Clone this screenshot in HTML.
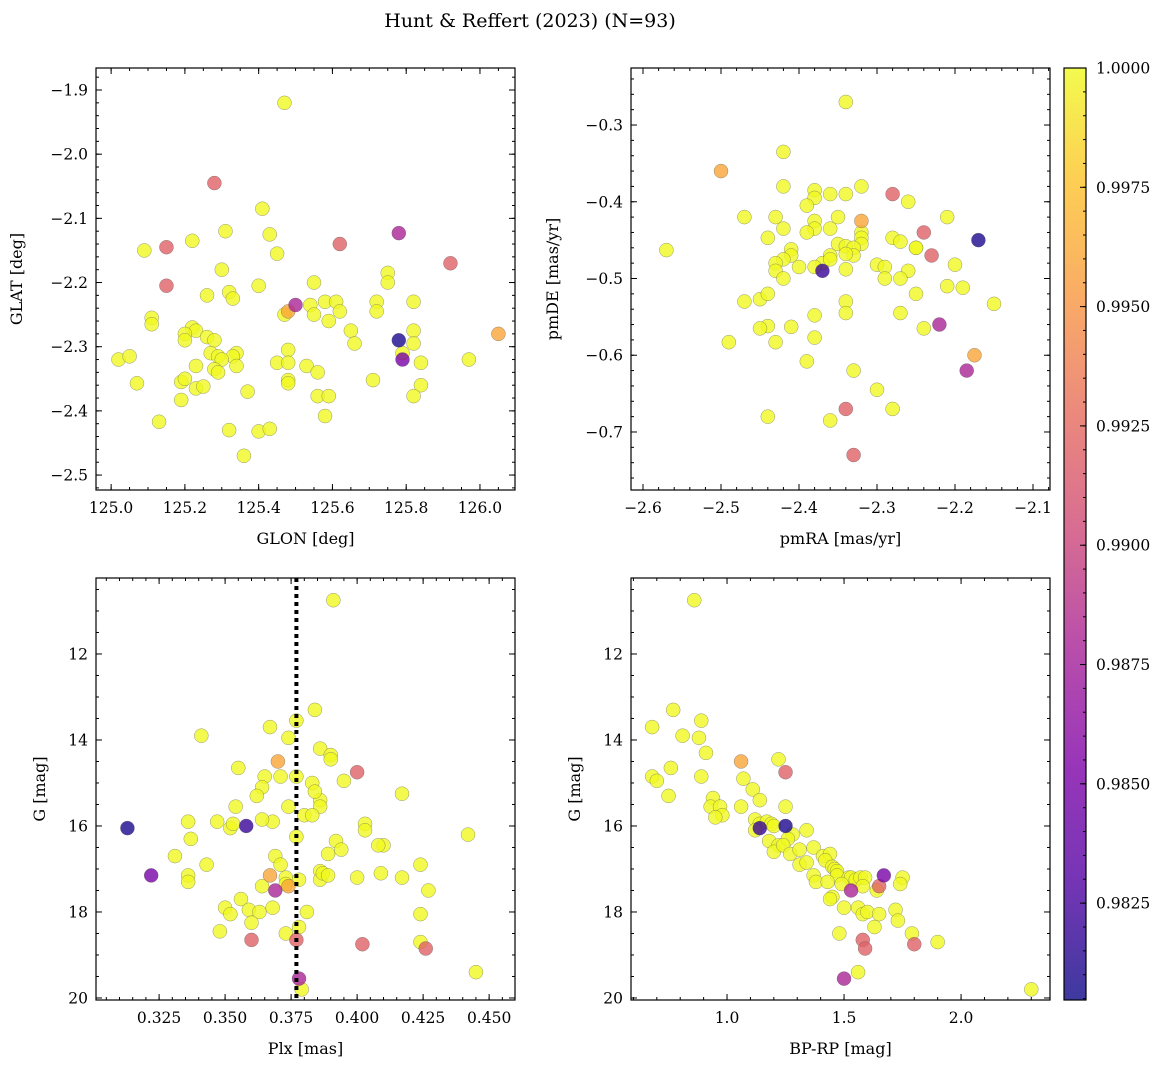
<!DOCTYPE html>
<html><head><meta charset="utf-8"><style>
body{margin:0;background:#fff}
svg text{font-family:"DejaVu Serif","Liberation Serif",serif;fill:#000}
</style></head><body>
<svg id="fig" width="1173" height="1067" xmlns="http://www.w3.org/2000/svg">
<text x="530" y="27" font-size="19" text-anchor="middle">Hunt &amp; Reffert (2023) (N=93)</text>
</svg>
<script>
const tlGlon=[125.47,125.41,125.31,125.43,125.22,125.09,125.45,125.30,125.75,125.75,125.55,125.40,125.32,125.33,125.26,125.58,125.61,125.72,125.82,125.72,125.62,125.54,125.11,125.47,125.55,125.11,125.59,125.22,125.23,125.20,125.26,125.65,125.82,125.20,125.28,125.66,125.82,125.48,125.27,125.34,125.29,125.33,125.02,125.05,125.30,125.23,125.28,125.53,125.45,125.48,125.79,125.84,125.97,125.56,125.29,125.34,125.19,125.20,125.07,125.48,125.48,125.71,125.23,125.25,125.37,125.84,125.56,125.59,125.82,125.19,125.58,125.13,125.32,125.40,125.43,125.36,
125.78,125.79,125.78,125.50,125.28,125.15,125.15,125.62,125.92,126.05,125.48];
const tlGlat=[-1.92,-2.085,-2.12,-2.125,-2.135,-2.15,-2.155,-2.18,-2.185,-2.2,-2.2,-2.205,-2.215,-2.225,-2.22,-2.23,-2.23,-2.23,-2.23,-2.245,-2.245,-2.235,-2.255,-2.25,-2.25,-2.265,-2.26,-2.27,-2.275,-2.28,-2.285,-2.275,-2.275,-2.29,-2.29,-2.295,-2.295,-2.305,-2.31,-2.31,-2.315,-2.315,-2.32,-2.315,-2.32,-2.33,-2.335,-2.33,-2.325,-2.325,-2.31,-2.325,-2.32,-2.34,-2.34,-2.33,-2.355,-2.35,-2.357,-2.352,-2.357,-2.352,-2.365,-2.362,-2.37,-2.36,-2.377,-2.377,-2.377,-2.383,-2.408,-2.417,-2.43,-2.432,-2.428,-2.47,
-2.29,-2.32,-2.123,-2.235,-2.045,-2.145,-2.205,-2.14,-2.17,-2.28,-2.245];
const tlProb=[];for(let i=0;i<76;i++)tlProb.push(1.0);tlProb.push(0.981,0.985,0.988,0.988,0.992,0.992,0.992,0.992,0.992,0.996,0.996);

const trPmra=[-2.34,-2.42,-2.42,-2.32,-2.38,-2.38,-2.36,-2.34,-2.26,-2.39,-2.47,-2.43,-2.35,-2.21,-2.38,-2.38,-2.36,-2.32,-2.39,-2.42,-2.44,-2.32,-2.28,-2.27,-2.35,-2.34,-2.32,-2.33,-2.25,-2.25,-2.57,-2.41,-2.41,-2.42,-2.36,-2.37,-2.33,-2.36,-2.34,-2.43,-2.40,-2.38,-2.34,-2.30,-2.29,-2.20,-2.43,-2.42,-2.29,-2.26,-2.27,-2.21,-2.19,-2.15,-2.47,-2.45,-2.44,-2.25,-2.34,-2.38,-2.34,-2.27,-2.41,-2.44,-2.45,-2.24,-2.49,-2.43,-2.38,-2.39,-2.33,-2.30,-2.28,-2.44,-2.36,
-2.17,-2.37,-2.185,-2.22,-2.28,-2.23,-2.24,-2.34,-2.33,-2.50,-2.175,-2.32];
const trPmde=[-0.27,-0.335,-0.38,-0.38,-0.385,-0.395,-0.39,-0.39,-0.4,-0.405,-0.42,-0.42,-0.42,-0.42,-0.425,-0.435,-0.435,-0.44,-0.44,-0.435,-0.447,-0.447,-0.447,-0.452,-0.455,-0.458,-0.455,-0.46,-0.46,-0.46,-0.463,-0.462,-0.47,-0.475,-0.47,-0.48,-0.47,-0.475,-0.468,-0.48,-0.485,-0.485,-0.488,-0.482,-0.485,-0.482,-0.49,-0.5,-0.5,-0.49,-0.5,-0.51,-0.512,-0.533,-0.53,-0.527,-0.52,-0.52,-0.53,-0.548,-0.545,-0.545,-0.563,-0.562,-0.565,-0.565,-0.583,-0.583,-0.577,-0.608,-0.62,-0.645,-0.67,-0.68,-0.685,
-0.45,-0.49,-0.62,-0.56,-0.39,-0.47,-0.44,-0.67,-0.73,-0.36,-0.60,-0.425];
const trProb=[];for(let i=0;i<75;i++)trProb.push(1.0);trProb.push(0.981,0.982,0.988,0.988,0.992,0.992,0.992,0.992,0.992,0.996,0.996,0.996);

const blPlx=[0.391,0.384,0.377,0.367,0.341,0.374,0.386,0.390,0.390,0.355,0.371,0.365,0.377,0.383,0.386,0.395,0.384,0.364,0.362,0.417,0.374,0.354,0.386,0.380,0.368,0.364,0.383,0.336,0.347,0.352,0.353,0.403,0.377,0.337,0.403,0.392,0.410,0.408,0.394,0.442,0.369,0.389,0.343,0.371,0.424,0.331,0.386,0.386,0.387,0.389,0.336,0.336,0.409,0.417,0.400,0.373,0.378,0.373,0.364,0.356,0.427,0.350,0.352,0.359,0.363,0.368,0.381,0.360,0.424,0.373,0.348,0.378,0.424,0.379,0.445,
0.313,0.358,0.322,0.378,0.369,0.400,0.402,0.360,0.377,0.426,0.370,0.367,0.374];
const blG=[10.75,13.3,13.55,13.7,13.9,13.95,14.2,14.35,14.45,14.65,14.85,14.85,14.85,15.0,15.4,14.95,15.2,15.1,15.3,15.25,15.55,15.55,15.55,15.75,15.9,15.85,15.75,15.9,15.9,16.05,15.95,15.95,16.25,16.3,16.1,16.35,16.45,16.45,16.55,16.2,16.7,16.65,16.9,16.9,16.9,16.7,17.05,17.25,17.1,17.15,17.15,17.3,17.1,17.2,17.2,17.2,17.25,17.35,17.4,17.7,17.5,17.9,18.05,17.95,18.0,17.9,18.0,18.25,18.05,18.5,18.45,18.35,18.7,19.8,19.4,
16.05,16.0,17.15,19.55,17.5,14.75,18.75,18.65,18.65,18.85,14.5,17.15,17.4];
const blProb=[];for(let i=0;i<75;i++)blProb.push(1.0);blProb.push(0.981,0.982,0.985,0.988,0.988,0.992,0.992,0.992,0.992,0.992,0.996,0.996,0.996);
const plxRef=[0.377];

const brBprp=[0.86,0.77,0.89,0.68,0.81,0.88,0.91,1.22,0.76,0.68,0.70,0.89,1.07,1.11,0.75,0.94,1.14,1.25,0.93,0.97,1.06,0.98,0.95,1.12,1.14,1.17,1.19,1.12,1.20,1.28,1.34,1.18,1.22,1.20,1.26,1.24,1.27,1.31,1.37,1.41,1.44,1.42,1.45,1.31,1.34,1.46,1.47,1.47,1.37,1.38,1.43,1.52,1.53,1.55,1.57,1.59,1.49,1.58,1.64,1.75,1.74,1.45,1.44,1.50,1.56,1.58,1.60,1.65,1.63,1.72,1.73,1.79,1.48,1.56,1.90,2.30,
1.25,1.14,1.67,1.50,1.53,1.25,1.58,1.59,1.80,1.65,1.06];
const brG=[10.75,13.3,13.55,13.7,13.9,13.95,14.3,14.45,14.65,14.85,14.95,14.85,14.9,15.15,15.3,15.35,15.4,15.55,15.55,15.55,15.55,15.75,15.8,15.85,15.95,15.9,15.95,16.1,16.0,16.2,16.1,16.35,16.45,16.6,16.3,16.45,16.65,16.55,16.5,16.7,16.65,16.8,16.95,16.9,16.85,17.0,17.05,17.15,17.15,17.3,17.3,17.2,17.2,17.25,17.2,17.2,17.35,17.4,17.5,17.2,17.35,17.65,17.7,17.9,17.9,18.05,18.0,18.05,18.35,17.95,18.2,18.5,18.5,19.4,18.7,19.8,
16.0,16.05,17.15,19.55,17.5,14.75,18.65,18.85,18.75,17.4,14.5];
const brProb=[];for(let i=0;i<76;i++)brProb.push(1.0);brProb.push(0.981,0.982,0.985,0.988,0.988,0.992,0.992,0.992,0.992,0.992,0.996);

const cbTicks=[0.9825,0.9850,0.9875,0.9900,0.9925,0.9950,0.9975,1.0000];

const NS='http://www.w3.org/2000/svg';
const svg=document.getElementById('fig');
function mk(tag,attrs,parent){const e=document.createElementNS(NS,tag);for(const k in attrs)e.setAttribute(k,attrs[k]);(parent||svg).appendChild(e);return e;}
const stops=[[0,[13,8,135]],[0.13,[84,2,163]],[0.25,[126,3,168]],[0.38,[168,34,150]],[0.5,[204,71,120]],[0.63,[230,108,92]],[0.75,[248,149,64]],[0.88,[253,195,40]],[1,[240,249,33]]];
function plasma(t){t=Math.max(0,Math.min(1,t));for(let i=1;i<stops.length;i++){if(t<=stops[i][0]){const a=stops[i-1],b=stops[i];const f=(t-a[0])/(b[0]-a[0]);const c=a[1].map((v,j)=>Math.round(v+(b[1][j]-v)*f));return `rgb(${c[0]},${c[1]},${c[2]})`;}}return 'rgb(240,249,33)';}
const VMIN=0.98047,VMAX=1.0;
const fmtNeg=s=>s.replace('-','−');

function panel(o){
  const g=mk('g',{});
  
  
  const X=v=>o.x0+(v-o.xd[0])/(o.xd[1]-o.xd[0])*(o.x1-o.x0);
  const Y=v=>o.y1-(v-o.yd[0])/(o.yd[1]-o.yd[0])*(o.y1-o.y0);
  const cp=mk('clipPath',{id:'cp'+o.name},g);mk('rect',{x:o.x0,y:o.y0,width:o.x1-o.x0,height:o.y1-o.y0},cp);
  const pg=mk('g',{'clip-path':`url(#cp${o.name})`},g);
  const idx=o.xs.map((_,i)=>i).sort((a,b)=>o.p[b]-o.p[a]);
  idx.forEach(i=>{const c=mk('circle',{cx:X(o.xs[i]),cy:Y(o.ys[i]),r:7,fill:plasma((o.p[i]-VMIN)/(VMAX-VMIN)),'fill-opacity':0.8,stroke:'#555','stroke-opacity':0.6,'stroke-width':0.5},pg);
    
    });
  if(o.vline){o.vline.forEach(v=>{const l=mk('line',{x1:X(v),x2:X(v),y1:o.y0,y2:o.y1,stroke:'#000','stroke-width':4,'stroke-dasharray':'4,4'},g);
    
    });}
  const fr=mk('rect',{x:o.x0,y:o.y0,width:o.x1-o.x0,height:o.y1-o.y0,fill:'none',stroke:'#000','stroke-width':1.2},g);
  
  
  const eps=1e-9;
  const ticks=(d,step)=>{const lo=Math.min(d[0],d[1]),hi=Math.max(d[0],d[1]);const a=[];for(let k=Math.ceil(lo/step-eps);k*step<=hi+eps;k++)a.push(+(k*step).toFixed(6));return a;};
  ticks(o.xd,o.xm).forEach(v=>{const x=X(v);mk('line',{x1:x,x2:x,y1:o.y1,y2:o.y1-3,stroke:'#000'},g);mk('line',{x1:x,x2:x,y1:o.y0,y2:o.y0+3,stroke:'#000'},g);});
  ticks(o.yd,o.ym).forEach(v=>{const y=Y(v);mk('line',{x1:o.x0,x2:o.x0+3,y1:y,y2:y,stroke:'#000'},g);mk('line',{x1:o.x1,x2:o.x1-3,y1:y,y2:y,stroke:'#000'},g);});
  ticks(o.xd,o.xM).forEach(v=>{const x=X(v);mk('line',{x1:x,x2:x,y1:o.y1,y2:o.y1-6,stroke:'#000'},g);mk('line',{x1:x,x2:x,y1:o.y0,y2:o.y0+6,stroke:'#000'},g);
    const t=mk('text',{x:x,y:o.y1+23,'font-size':15.5,'text-anchor':'middle'},g);t.textContent=fmtNeg(v.toFixed(o.xf));
    });
  ticks(o.yd,o.yM).forEach(v=>{const y=Y(v);mk('line',{x1:o.x0,x2:o.x0+6,y1:y,y2:y,stroke:'#000'},g);mk('line',{x1:o.x1,x2:o.x1-6,y1:y,y2:y,stroke:'#000'},g);
    const t=mk('text',{x:o.x0-8,y:y+5.5,'font-size':15.5,'text-anchor':'end'},g);t.textContent=fmtNeg(v.toFixed(o.yf));
    });
  const xl=mk('text',{x:(o.x0+o.x1)/2,y:o.y1+54,'font-size':16,'text-anchor':'middle'},g);xl.textContent=o.xl;
  
  const yc=(o.y0+o.y1)/2;
  const yl=mk('text',{x:o.ylx,y:yc,'font-size':16,'text-anchor':'middle',transform:`rotate(-90 ${o.ylx} ${yc})`},g);yl.textContent=o.yl;
  
}

panel({name:'glon-glat-panel',x0:96,x1:515,y0:68,y1:490,xd:[124.959,126.095],yd:[-2.5233,-1.8657],xM:0.2,xm:0.05,yM:0.1,ym:0.02,xf:1,yf:1,xs:tlGlon,ys:tlGlat,p:tlProb,xl:'GLON [deg]',yl:'GLAT [deg]',ylx:22});
panel({name:'proper-motion-panel',x0:631,x1:1050,y0:68,y1:490,xd:[-2.6154,-2.0782],yd:[-0.7756,-0.2257],xM:0.1,xm:0.02,yM:0.1,ym:0.02,xf:1,yf:1,xs:trPmra,ys:trPmde,p:trProb,xl:'pmRA [mas/yr]',yl:'pmDE [mas/yr]',ylx:558});
panel({name:'parallax-mag-panel',x0:96,x1:515,y0:578,y1:1000,xd:[0.3011,0.4598],yd:[20.047,10.233],xM:0.025,xm:0.005,yM:2,ym:0.5,xf:3,yf:0,xs:blPlx,ys:blG,p:blProb,xl:'Plx [mas]',yl:'G [mag]',ylx:45,vline:plxRef});
panel({name:'cmd-panel',x0:631,x1:1050,y0:578,y1:1000,xd:[0.5897,2.380],yd:[20.047,10.233],xM:0.5,xm:0.1,yM:2,ym:0.5,xf:1,yf:0,xs:brBprp,ys:brG,p:brProb,xl:'BP-RP [mag]',yl:'G [mag]',ylx:580});

(function(){
  const x0=1064,x1=1086,y0=68,y1=1000;
  const g=mk('g',{});
  
  
  const defs=mk('defs',{},g);const lg=mk('linearGradient',{id:'cbg',x1:0,y1:1,x2:0,y2:0},defs);
  stops.forEach(s=>mk('stop',{offset:s[0],'stop-color':plasma(s[0])},lg));
  mk('rect',{x:x0,y:y0,width:x1-x0,height:y1-y0,fill:'url(#cbg)','fill-opacity':0.8},g);
  mk('rect',{x:x0,y:y0,width:x1-x0,height:y1-y0,fill:'none',stroke:'#000','stroke-width':1.2},g);
  const Y=v=>y1-(v-VMIN)/(VMAX-VMIN)*(y1-y0);
  for(let k=0;k<=39;k++){const v=0.9805+k*0.0005;if(v>1.00001)break;const y=Y(v);mk('line',{x1:x1,x2:x1-3,y1:y,y2:y,stroke:'#000'},g);}
  cbTicks.forEach(v=>{const y=Y(v);mk('line',{x1:x1,x2:x1-6,y1:y,y2:y,stroke:'#000'},g);
    const t=mk('text',{x:x1+10,y:y+5.5,'font-size':15.5},g);t.textContent=v.toFixed(4);
    });
})();
</script>
</body></html>
